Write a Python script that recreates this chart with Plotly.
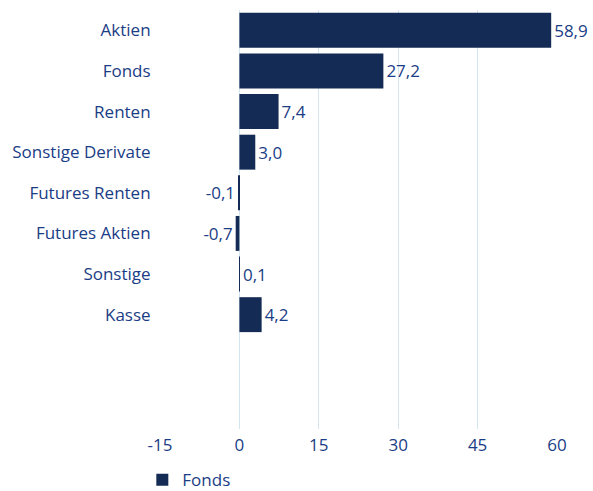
import plotly.graph_objects as go

categories = ["Aktien", "Fonds", "Renten", "Sonstige Derivate", "Futures Renten",
              "Futures Aktien", "Sonstige", "Kasse"]
values = [58.9, 27.2, 7.4, 3.0, -0.1, -0.7, 0.1, 4.2]
series_name = "Fonds"
x_ticks = [-15, 0, 15, 30, 45, 60]
x_tick_labels = ["-15", "0", "15", "30", "45", "60"]

bar_color = "#142b55"
text_color = "#1a3d85"
grid_color = "#d3e6ef"
font_family = "'Open Sans', Lato, sans-serif"
fsize = 17

labels = [f"{v:.1f}".replace(".", ",") for v in values]

fig = go.Figure(go.Bar(
    y=categories, x=values, orientation="h", name=series_name,
    marker=dict(color=bar_color, line=dict(width=0)),
    text=labels, textposition="outside", cliponaxis=False,
    textfont=dict(color=text_color, size=fsize, family=font_family),
    showlegend=True,
))

fig.update_layout(
    width=593, height=491,
    margin=dict(l=160, r=36, t=10, b=62, autoexpand=False),
    plot_bgcolor="white", paper_bgcolor="white",
    font=dict(family=font_family, size=fsize, color=text_color),
    bargap=0.14,
    xaxis=dict(range=[-15, 60], tickvals=x_ticks, ticktext=x_tick_labels,
               showgrid=True, gridcolor=grid_color, automargin=False,
               gridwidth=1, zeroline=False, showline=False,
               ticks="outside", ticklen=1, tickcolor="rgba(0,0,0,0)"),
    yaxis=dict(range=[9.815, -0.5], showgrid=False, zeroline=False, showline=False,
               automargin=False,
               ticks="outside", ticklen=5, tickcolor="rgba(0,0,0,0)"),
    legend=dict(orientation="h", xref="container", yref="container",
                x=0.24, y=0.022, xanchor="left", yanchor="middle",
                font=dict(size=fsize, color=text_color), itemwidth=30),
)

fig.write_html("out.html", config={"displayModeBar": False})

with open("out.html", "r", encoding="utf-8") as f:
    html = f.read()
html = html.replace("<body>", '<body style="margin:0;padding:0;overflow:hidden">', 1)
with open("out.html", "w", encoding="utf-8") as f:
    f.write(html)
